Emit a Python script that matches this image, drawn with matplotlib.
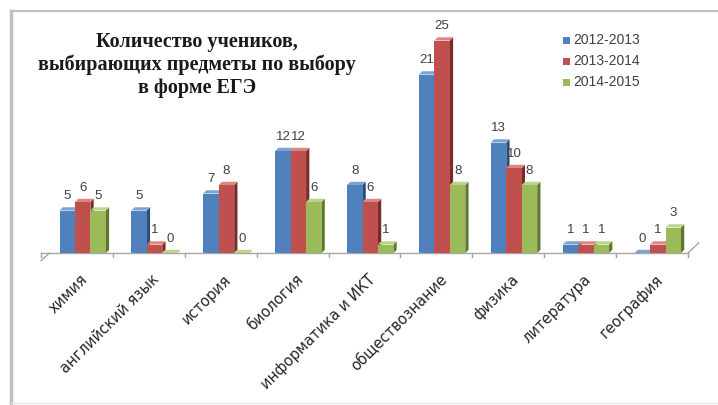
import matplotlib
matplotlib.use("Agg")
import matplotlib.pyplot as plt
from matplotlib.patches import Polygon, Rectangle
from matplotlib.lines import Line2D
import matplotlib.transforms as mtransforms
import numpy as np

categories = ["химия", "английский язык", "история", "биология", "информатика и ИКТ",
              "обществознание", "физика", "литература", "география"]
series_names = ["2012-2013", "2013-2014", "2014-2015"]
v2012 = [5, 5, 7, 12, 8, 21, 13, 1, 0]
v2013 = [6, 1, 8, 12, 6, 25, 10, 1, 1]
v2014 = [5, 0, 0, 6, 1, 8, 8, 1, 3]
title_text = "Количество учеников,\nвыбирающих предметы по выбору\nв форме ЕГЭ"

series = [v2012, v2013, v2014]
front = ["#4F81BD", "#C0504D", "#9BBB59"]
side = ["#2C4D75", "#772C2A", "#5F7530"]
top = ["#7EA3D3", "#D98785", "#BBD48C"]

W, H = 718, 405
fig = plt.figure(figsize=(W / 100, H / 100), dpi=100)
fig.patch.set_facecolor("white")

# outer frame
fig.add_artist(Line2D([11 / W, 11 / W], [1 - 11 / H, 2 / H], color="#BFBFBF", lw=2.5,
                      transform=fig.transFigure))
fig.add_artist(Line2D([11 / W, 1.0], [1 - 11 / H, 1 - 11 / H], color="#BFBFBF", lw=1.5,
                      transform=fig.transFigure))
fig.add_artist(Line2D([11 / W, 1.0], [2 / H, 2 / H], color="#E8E8E8", lw=1.0,
                      transform=fig.transFigure))

ax = fig.add_axes([41 / W, 152 / H, 647 / W, 229.5 / H])
ax.set_xlim(-0.5, len(categories) - 0.5)
ax.set_ylim(0, 27)
ax.axis("off")

bw = 0.215
dx = 0.045   # depth offset in x (data units)
dy = 0.38    # depth offset in y (data units)
shift = 0.08
x = np.arange(len(categories))

for j, vals in enumerate(series):
    xs = x + (j - 1) * bw + shift
    for xi, v in zip(xs, vals):
        l, r = xi - bw / 2, xi + bw / 2
        ax.add_patch(Rectangle((l, 0), bw, v, facecolor=front[j], edgecolor="none", zorder=3))
        ax.add_patch(Polygon([(r, 0), (r + dx, dy), (r + dx, v + dy), (r, v)], closed=True,
                             facecolor=side[j], edgecolor="none", zorder=2))
        ax.add_patch(Polygon([(l, v), (l + dx, v + dy), (r + dx, v + dy), (r, v)], closed=True,
                             facecolor=top[j], edgecolor="none", zorder=2))
        ax.text(xi, v + dy + 0.6, str(v), ha="center", va="bottom", fontsize=9.5,
                family="Liberation Sans", color="#404040", zorder=5)

# floor line and ticks
ax.plot([-0.5, len(categories) - 0.5], [0, 0], color="#A6A6A6", lw=1.0, clip_on=False, zorder=1)
ax.plot([-0.5, -0.5 + 0.12], [-0.9, 0.0], color="#A6A6A6", lw=1.0, clip_on=False)
ax.plot([len(categories) - 0.5, len(categories) - 0.5 + 0.15], [0, 1.2], color="#A6A6A6",
        lw=1.0, clip_on=False)
for b in np.arange(-0.5, len(categories), 1.0):
    ax.plot([b, b], [0, -0.5], color="#A6A6A6", lw=1.0, clip_on=False)

# category labels
off = mtransforms.offset_copy(ax.transData, fig=fig, x=3, y=-19, units="dots")
for xi, c in zip(x, categories):
    ax.text(xi, 0, c, rotation=45, rotation_mode="anchor", ha="right", va="top",
            fontsize=10.5, family="DejaVu Sans", color="#262626", transform=off)

# title
fig.text(197 / W, 1 - 65 / H, title_text, ha="center", va="center", fontsize=14.5,
         family="Liberation Serif", fontweight="bold", color="#1a1a1a", linespacing=1.2)

# legend
for j, name in enumerate(series_names):
    yy = 1 - (40 + j * 21) / H
    fig.add_artist(Rectangle((563 / W, yy - 3.5 / H), 7 / W, 7 / H, facecolor=front[j],
                             edgecolor="none", transform=fig.transFigure))
    fig.text(573 / W, yy, name, ha="left", va="center", fontsize=10,
             family="Liberation Sans", color="#404040")

fig.savefig("out.png", dpi=100, facecolor="white")
